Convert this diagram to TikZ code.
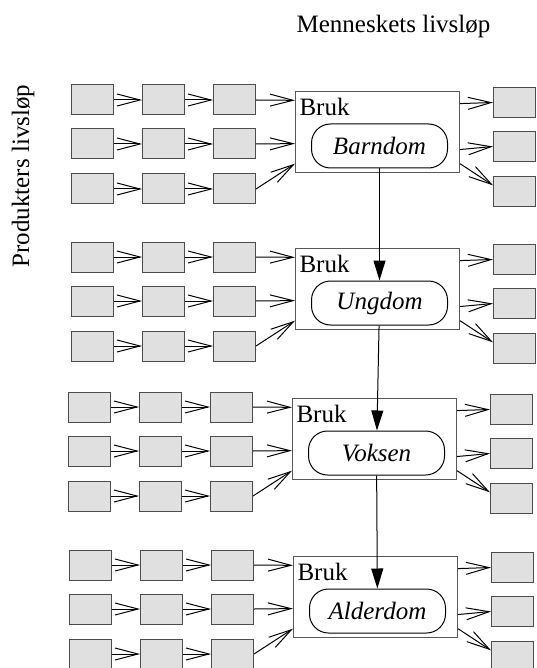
\documentclass[tikz,border=0pt]{standalone}
\usepackage{fontspec}
\setmainfont{Liberation Serif}
\usetikzlibrary{
  arrows.meta
}

\begin{document}
\begin{tikzpicture}[x=1pt, y=-1pt, line width=1pt,
    font=\fontsize{25}{30}\selectfont,
  liten/.style = {shape=rectangle, draw=black!70, fill=black!12,
    minimum width=42pt, minimum height=30pt, inner sep=0pt},
  bruk/.style = {shape=rectangle, draw=black!65, anchor=north west,
    minimum width=164pt, minimum height=81pt, inner sep=0pt}]
    \tikzstyle{fase}=[rounded corners=19pt, draw, minimum width=136pt,
      minimum height=44pt, font=\fontsize{25}{30}\selectfont\itshape]
    \tikzstyle{pil}=[-{Straight Barb[length=23pt,width=12pt]}]
    \tikzstyle{overgang}=[-{Triangle[length=20pt,width=12pt]}]
  \useasboundingbox (0,0) rectangle (536,668);
  \node[anchor=base] (menneske) at (393.5,33) {Menneskets livsløp};
  \node[anchor=base, rotate=90] (produkt) at (29,176) {Produkters livsløp};
  \foreach \g/\bx/\by/\fase in {1/295/91/Barndom, 2/295/248/Ungdom,
      3/292/398/Voksen, 4/293/556/Alderdom} {
    \node[bruk] (b\g) at (\bx,\by) {};
    \node[anchor=north west, inner sep=0pt] (bl\g) at (\bx+4,\by+7) {Bruk};
    \node[fase] (f\g) at (\bx+84.5,\by+55) {\fase};
    \foreach \r/\dy in {1/9, 2/53, 3/98} {
      \foreach \c/\dx in {1/202.5, 2/131.5, 3/60.5}
        \node[liten] (s\g\r\c) at (\bx-\dx,\by+\dy) {};
      \draw[pil] (s\g\r1) -- (s\g\r2);
      \draw[pil] (s\g\r2) -- (s\g\r3);
    }
    \foreach \r/\dy in {1/11.5, 2/55.5, 3/100.5}
      \node[liten] (h\g\r) at (\bx+219.5,\by+\dy) {};
    % inn i bruk
    \draw[pil] (s\g13.east) -- (b\g.159);
    \draw[pil] (s\g23.east) -- (b\g.188);
    \draw[pil] (s\g33.east) -- (b\g.201);
    % ut av bruk
    \draw[pil] (b\g.19) -- (h\g1.west);
    \draw[pil] (b\g.348) -- (h\g2.west);
    \draw[pil] (b\g.339) -- (h\g3.164);
  }
  \foreach \g/\h in {1/2, 2/3, 3/4}
    \draw[overgang] (f\g) -- (f\h);
\end{tikzpicture}
\end{document}
